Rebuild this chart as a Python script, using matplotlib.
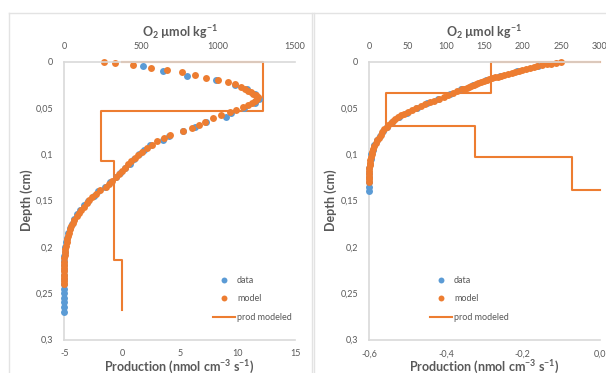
import numpy as np
import matplotlib as mpl
mpl.use('Agg')
import matplotlib.pyplot as plt
from matplotlib.lines import Line2D

# ---- left panel data ----
leftModelDepth = [0.000, 0.001, 0.0036, 0.0065, 0.0093, 0.0114, 0.0144, 0.0179, 0.0197, 0.0216,
	0.0244, 0.0276, 0.0295, 0.0316, 0.0332, 0.0349, 0.0365, 0.0381, 0.0402, 0.0424,
	0.0446, 0.0467, 0.0494, 0.0521, 0.054, 0.0575, 0.061, 0.0647, 0.068, 0.0715,
	0.075, 0.079, 0.0825, 0.086, 0.0895, 0.093, 0.097, 0.1005, 0.104, 0.1075,
	0.111, 0.1145, 0.118, 0.1215, 0.125, 0.1285, 0.132, 0.1355, 0.139, 0.1425,
	0.146, 0.1495, 0.153, 0.1565, 0.160, 0.1635, 0.167, 0.1705, 0.174, 0.1775,
	0.181, 0.1845, 0.188, 0.1915, 0.195, 0.1985, 0.202, 0.2055, 0.209, 0.2125,
	0.216, 0.2195, 0.223, 0.2265, 0.230, 0.2335, 0.237, 0.240]
leftModelO2 = [260, 329, 448, 563, 671, 766, 849, 920, 1000, 1065,
	1108, 1152, 1173, 1193, 1212, 1229, 1245, 1258, 1251, 1238,
	1219, 1193, 1160, 1115, 1076, 1022, 968, 914, 875, 830,
	775, 690, 645, 603, 570, 538, 505, 480, 458, 435,
	415, 395, 375, 355, 335, 313, 292, 270, 230, 205,
	180, 160, 145, 125, 108, 93, 80, 66, 55, 45,
	37, 30, 24, 19, 15, 11, 7, 4, 2, 1,
	0, 0, 0, 0, 0, 0, 0, 0]

leftDataDepth = [0.005, 0.010, 0.015, 0.020, 0.025, 0.030, 0.035, 0.040, 0.045, 0.050,
	0.055, 0.060, 0.065, 0.070, 0.075, 0.080, 0.085, 0.090, 0.095, 0.100,
	0.105, 0.110, 0.115, 0.120, 0.125, 0.130, 0.135, 0.140, 0.145, 0.150,
	0.155, 0.160, 0.165, 0.170, 0.175, 0.180, 0.185, 0.190, 0.195, 0.200,
	0.205, 0.210, 0.215, 0.220, 0.225, 0.230, 0.235, 0.240, 0.245, 0.250,
	0.255, 0.260, 0.265, 0.270]
leftDataO2 = [513, 643, 795, 985, 1110, 1185, 1240, 1268, 1240, 1170,
	1085, 1050, 920, 850, 775, 680, 640, 560, 520, 485,
	450, 425, 395, 365, 335, 300, 265, 220, 190, 155,
	130, 105, 85, 65, 50, 38, 25, 15, 10, 5,
	2, 0, 0, 0, 0, 0, 0, 0, 0, 0,
	0, 0, 0, 0]

leftProd = [0, 12.2, 12.2, -1.8, -1.8, -0.7, -0.7, 0, 0]
leftProdDepth = [0, 0, 0.053, 0.053, 0.107, 0.107, 0.214, 0.214, 0.268]

# ---- right panel data ----
rightModelDepth = [0.000, 0.001, 0.002, 0.003, 0.004, 0.005, 0.006, 0.007, 0.008, 0.009,
	0.010, 0.011, 0.012, 0.013, 0.014, 0.015, 0.016, 0.017, 0.018, 0.019,
	0.020, 0.021, 0.022, 0.023, 0.024, 0.025, 0.026, 0.027, 0.028, 0.029,
	0.030, 0.032, 0.034, 0.036, 0.038, 0.040, 0.042, 0.044, 0.046, 0.048,
	0.050, 0.052, 0.054, 0.056, 0.058, 0.060, 0.062, 0.064, 0.066, 0.068,
	0.070, 0.073, 0.076, 0.079, 0.082, 0.085, 0.088, 0.091, 0.094, 0.097,
	0.100, 0.103, 0.106, 0.109, 0.112, 0.115, 0.118, 0.121, 0.124, 0.127, 0.130]
rightModelO2 = [250, 243, 237, 231, 225, 219, 214, 209, 204, 199,
	195, 190, 186, 181, 176, 172, 168, 164, 160, 156,
	153, 149, 146, 142, 139, 136, 133, 130, 127, 124,
	121, 115, 109, 103, 97, 91, 85, 79, 73, 67,
	61, 56, 51, 46, 42, 38, 34, 31, 28, 25,
	23, 20, 17, 15, 13, 11, 9, 7, 5.5, 4.3,
	3.3, 2.5, 1.8, 1.3, 0.9, 0.6, 0.4, 0.2, 0.1, 0, 0]

rightDataDepth = [0.005, 0.010, 0.015, 0.020, 0.025, 0.030, 0.035, 0.040, 0.045, 0.050,
	0.055, 0.060, 0.065, 0.070, 0.075, 0.080, 0.085, 0.090, 0.095, 0.100,
	0.105, 0.110, 0.115, 0.120, 0.125, 0.130, 0.135, 0.140]
rightDataO2 = [220, 193, 171, 152, 135, 120, 105, 90, 76, 62,
	49, 39, 30, 23, 18, 14, 11, 7, 5, 3,
	2, 1, 0.5, 0, 0, 0, 0, 0]

rightProd = [0, -0.283, -0.283, -0.555, -0.555, -0.325, -0.325, -0.072, -0.072, 0]
rightProdDepth = [0, 0, 0.034, 0.034, 0.069, 0.069, 0.103, 0.103, 0.139, 0.139]

# ---- ticks ----
depthTicks = [0, 0.05, 0.1, 0.15, 0.2, 0.25, 0.3]
depthLabels = ['0', '0,05', '0,1', '0,15', '0,2', '0,25', '0,3']
leftProdTicks = [-5, 0, 5, 10, 15]
leftProdLabels = ['-5', '0', '5', '10', '15']
leftO2Ticks = [0, 500, 1000, 1500]
leftO2Labels = ['0', '500', '1000', '1500']
rightProdTicks = [-0.6, -0.4, -0.2, 0.0]
rightProdLabels = ['-0,6', '-0,4', '-0,2', '0,0']
rightO2Ticks = [0, 50, 100, 150, 200, 250, 300]
rightO2Labels = ['0', '50', '100', '150', '200', '250', '300']

blue = '#5B9BD5'
orange = '#ED7D31'
grey = '#D9D9D9'
textGrey = '#595959'

plt.rcParams['font.family'] = ['Lato', 'DejaVu Sans']
plt.rcParams['axes.unicode_minus'] = False
plt.rcParams['mathtext.fontset'] = 'custom'
plt.rcParams['mathtext.rm'] = 'Lato:bold'
plt.rcParams['mathtext.default'] = 'rm'

W, H = 606, 373
fig = plt.figure(figsize=(W / 100, H / 100), dpi=100)

def px(x, y):
	return x / W, 1 - y / H

def makePanel(x0, prodLim, o2Lim, prodTicks, prodLabels, o2Ticks, o2Labels,
		prod, prodDepth, dataO2, dataDepth, modelO2, modelDepth, legendX):
	left, top = px(x0, 61.7)
	_, bottom = px(x0, 339.5)
	ax = fig.add_axes([left, bottom, 230.7 / W, top - bottom])
	ax.set_xlim(*prodLim)
	ax.set_ylim(0.3, 0)
	ax2 = ax.twiny()
	ax2.set_xlim(*o2Lim)
	ax2.set_ylim(0.3, 0)

	hData, = ax2.plot(dataO2, dataDepth, 'o', color=blue, ms=5, mec='none', clip_on=False)
	hModel, = ax2.plot(modelO2, modelDepth, 'o', color=orange, ms=5, mec='none', clip_on=False)
	hProd, = ax.plot(prod, prodDepth, '-', color=orange, lw=1.5, clip_on=False)

	for a in (ax, ax2):
		for s in a.spines.values():
			s.set_visible(False)
		a.tick_params(length=0, labelsize=6.5, labelcolor=textGrey)
	ax.spines['left'].set_visible(True)
	ax.spines['bottom'].set_visible(True)
	ax2.spines['top'].set_visible(True)
	for s in (ax.spines['left'], ax.spines['bottom'], ax2.spines['top']):
		s.set_color(grey)
		s.set_linewidth(1.2)
	ax.set_xticks(prodTicks)
	ax.set_xticklabels(prodLabels)
	ax.set_yticks(depthTicks)
	ax.set_yticklabels(depthLabels)
	ax2.set_xticks(o2Ticks)
	ax2.set_xticklabels(o2Labels)
	ax.tick_params(axis='x', pad=7)
	ax.tick_params(axis='y', pad=8)
	ax2.tick_params(axis='x', pad=8)
	ax.patch.set_visible(False)

	lx, ly = px(legendX, 276)
	ax2.legend([hData, hModel, hProd], ['data', 'model', 'prod modeled'],
		loc='upper left', bbox_to_anchor=(lx, ly), bbox_transform=fig.transFigure,
		frameon=False, fontsize=6.5, labelcolor=textGrey, borderpad=0, borderaxespad=0,
		handlelength=2.4, handletextpad=0.25, labelspacing=1.05, numpoints=1,
		markerscale=0.85)

	cx = x0 + 115.3
	fig.text(*px(cx, 32), r'O$_2$ µmol kg$^{-1}$', ha='center', va='center',
		fontsize=9, fontweight='bold', color=textGrey)
	fig.text(*px(cx, 367), r'Production (nmol cm$^{-3}$ s$^{-1}$)', ha='center', va='center',
		fontsize=9, fontweight='bold', color=textGrey)
	fig.text(*px(x0 - 38, 200.6), 'Depth (cm)', ha='center', va='center', rotation=90,
		fontsize=9, fontweight='bold', color=textGrey)
	return ax, ax2

makePanel(64.3, (-5, 15), (0, 1500), leftProdTicks, leftProdLabels, leftO2Ticks, leftO2Labels,
	leftProd, leftProdDepth, leftDataO2, leftDataDepth, leftModelO2, leftModelDepth, 213)
makePanel(369.0, (-0.6, 0.0), (0, 300), rightProdTicks, rightProdLabels, rightO2Ticks, rightO2Labels,
	rightProd, rightProdDepth, rightDataO2, rightDataDepth, rightModelO2, rightModelDepth, 430)

# chart area frames
frameColor = '#E3E3E3'
fig.add_artist(Line2D([9 / W, 1], [1 - 13 / H] * 2, color=frameColor, lw=1))
fig.add_artist(Line2D([9 / W] * 2, [0, 1 - 13 / H], color=frameColor, lw=1))
fig.add_artist(Line2D([312 / W] * 2, [0, 1 - 13 / H], color=frameColor, lw=1))
fig.add_artist(Line2D([314 / W] * 2, [0, 1 - 13 / H], color=frameColor, lw=1))

fig.savefig('out.png', dpi=100)
